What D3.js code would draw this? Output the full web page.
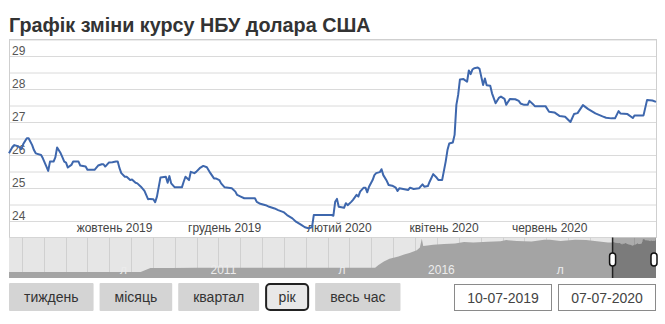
<!DOCTYPE html>
<html>
<head>
<meta charset="utf-8">
<script src="https://cdn.jsdelivr.net/npm/d3@7"></script>
<style>
  body { margin: 0; background: #fff; font-family: Arial, "Liberation Sans", sans-serif; }
  svg { display: block; }
</style>
</head>
<body>
<div id="chart"></div>
<script>
const title = "Графік зміни курсу НБУ долара США";

// daily NBU USD rate (DD-MM-YYYY)
const dates = [
  "10-07-2019","12-07-2019","13-07-2019","15-07-2019","17-07-2019","18-07-2019","20-07-2019","21-07-2019",
  "23-07-2019","24-07-2019","25-07-2019","28-07-2019","29-07-2019","31-07-2019","01-08-2019","02-08-2019",
  "04-08-2019","05-08-2019","06-08-2019","08-08-2019","09-08-2019","10-08-2019","11-08-2019","12-08-2019",
  "14-08-2019","15-08-2019","18-08-2019","19-08-2019","22-08-2019","23-08-2019","27-08-2019","29-08-2019",
  "31-08-2019","01-09-2019","02-09-2019","04-09-2019","06-09-2019","08-09-2019","09-09-2019","10-09-2019",
  "11-09-2019","13-09-2019","14-09-2019","16-09-2019","17-09-2019","19-09-2019","20-09-2019","22-09-2019",
  "24-09-2019","26-09-2019","27-09-2019","29-09-2019","30-09-2019","01-10-2019","03-10-2019","06-10-2019",
  "07-10-2019","08-10-2019","09-10-2019","11-10-2019","15-10-2019","16-10-2019","17-10-2019","19-10-2019",
  "20-10-2019","22-10-2019","23-10-2019","25-10-2019","27-10-2019","29-10-2019","31-10-2019","02-11-2019",
  "03-11-2019","05-11-2019","06-11-2019","08-11-2019","12-11-2019","14-11-2019","15-11-2019","17-11-2019",
  "19-11-2019","25-11-2019","26-11-2019","28-11-2019","01-12-2019","03-12-2019","06-12-2019","08-12-2019",
  "11-12-2019","13-12-2019","16-12-2019","18-12-2019","21-12-2019","23-12-2019","25-12-2019","27-12-2019",
  "28-12-2019","07-01-2020","08-01-2020","09-01-2020","10-01-2020","11-01-2020","14-01-2020","15-01-2020",
  "16-01-2020","18-01-2020","19-01-2020","21-01-2020","22-01-2020","23-01-2020","25-01-2020","26-01-2020",
  "27-01-2020","28-01-2020","30-01-2020","31-01-2020","01-02-2020","03-02-2020","04-02-2020","05-02-2020",
  "07-02-2020","08-02-2020","10-02-2020","12-02-2020","13-02-2020","14-02-2020","19-02-2020","20-02-2020",
  "22-02-2020","25-02-2020","27-02-2020","28-02-2020","01-03-2020","02-03-2020","04-03-2020","06-03-2020",
  "07-03-2020","09-03-2020","11-03-2020","12-03-2020","13-03-2020","15-03-2020","16-03-2020","17-03-2020",
  "18-03-2020","19-03-2020","21-03-2020","23-03-2020","24-03-2020","25-03-2020","26-03-2020","27-03-2020",
  "29-03-2020","30-03-2020","01-04-2020","02-04-2020","03-04-2020","05-04-2020","06-04-2020","08-04-2020",
  "10-04-2020","11-04-2020","13-04-2020","14-04-2020","16-04-2020","19-04-2020","21-04-2020","22-04-2020",
  "24-04-2020","26-04-2020","27-04-2020","29-04-2020","30-04-2020","06-05-2020","08-05-2020","11-05-2020",
  "14-05-2020","17-05-2020","20-05-2020","22-05-2020","24-05-2020","27-05-2020","30-05-2020","03-06-2020",
  "07-06-2020","09-06-2020","12-06-2020","14-06-2020","16-06-2020","17-06-2020","21-06-2020","24-06-2020",
  "25-06-2020","30-06-2020","02-07-2020","05-07-2020","07-07-2020"
];
const rates = [
  26.05,26.25,26.30,26.27,26.18,26.33,26.51,26.51,
  26.30,26.15,26.05,26.00,25.90,25.65,25.52,25.80,
  25.80,25.93,26.23,26.05,25.93,25.80,25.77,25.62,
  25.70,25.80,25.80,25.68,25.65,25.55,25.55,25.68,
  25.72,25.72,25.65,25.77,25.78,25.80,25.80,25.60,
  25.45,25.34,25.34,25.24,25.26,25.16,25.14,25.04,
  24.91,24.66,24.67,24.66,24.57,24.74,25.32,25.34,
  25.16,25.36,25.14,25.02,25.02,25.19,25.34,25.24,
  25.49,25.45,25.49,25.60,25.67,25.63,25.45,25.29,
  25.29,25.24,25.14,25.02,24.99,24.89,24.79,24.74,
  24.69,24.69,24.58,24.52,24.48,24.43,24.38,24.33,
  24.27,24.18,24.08,23.98,23.88,23.81,23.78,23.81,
  24.18,24.18,24.16,24.58,24.67,24.43,24.40,24.54,
  24.48,24.58,24.64,24.79,24.74,24.89,25.01,25.01,
  24.87,25.04,25.24,25.39,25.45,25.48,25.57,25.39,
  25.21,25.09,25.07,25.01,24.91,24.99,24.94,25.01,
  24.97,24.99,25.11,25.04,25.06,25.19,25.42,25.31,
  25.24,25.24,25.80,26.15,26.35,26.38,26.61,27.52,
  27.82,28.29,28.30,28.22,28.56,28.45,28.59,28.63,
  28.65,28.61,28.12,28.32,28.11,28.10,27.87,27.57,
  27.74,27.77,27.70,27.52,27.70,27.69,27.64,27.56,
  27.52,27.52,27.64,27.54,27.48,27.48,27.31,27.29,
  27.18,27.16,27.00,27.24,27.27,27.51,27.39,27.26,
  27.17,27.13,27.11,27.11,27.33,27.26,27.24,27.12,
  27.20,27.20,27.67,27.65,27.61
];

// navigator history before the selected year
const navDates = [
  "15-09-2005","20-09-2008","20-10-2008","20-11-2008","10-12-2008","01-06-2009","01-01-2010","01-01-2011",
  "01-01-2012","01-01-2013","01-02-2014","01-03-2014","15-04-2014","01-06-2014","15-08-2014","01-10-2014",
  "15-11-2014","15-01-2015","10-02-2015","26-02-2015","10-03-2015","15-04-2015","01-06-2015","01-09-2015",
  "01-12-2015","15-02-2016","01-05-2016","01-09-2016","15-12-2016","01-02-2017","01-05-2017","01-09-2017",
  "15-12-2017","01-02-2018","01-05-2018","01-09-2018","01-12-2018","01-03-2019","01-06-2019"
];
const navRates = [
  5.05,5.05,6.0,7.2,7.9,7.8,8.1,8.0,
  8.0,8.1,8.1,10.0,12.5,14.5,16.0,17.5,
  18.5,20.5,22.5,28.8,23.5,24.0,24.5,25.0,
  25.3,26.5,26.0,26.6,27.0,27.8,27.2,26.8,
  28.0,28.0,27.2,28.0,27.8,27.0,26.0
];

const yTicks = [24, 25, 26, 27, 28, 29];
const monthTicks = ["01-10-2019","01-12-2019","01-02-2020","01-04-2020","01-06-2020"];
const monthNames = ["січень","лютий","березень","квітень","травень","червень",
                    "липень","серпень","вересень","жовтень","листопад","грудень"];
const navLabelDates = ["01-07-2008","01-01-2011","01-07-2013","01-01-2016","01-07-2018"];
const navLabelText = ["л","2011","л","2016","л"];
const buttons = ["тиждень","місяць","квартал","рік","весь час"];
const activeButton = "рік";
const rangeFrom = "10-07-2019";
const rangeTo = "07-07-2020";
const navStart = "15-09-2005";

const parse = d3.timeParse("%d-%m-%Y");
const W = 665, H = 324;
const plot = { left: 9, right: 656, top: 39.5, bottom: 237.5 };
const nav = { top: 237.5, bottom: 278 };

const svg = d3.select("#chart").append("svg")
  .attr("width", W)
  .attr("height", H)
  .style("font-family", "Arial, 'Liberation Sans', sans-serif");

svg.append("text")
  .attr("x", 9)
  .attr("y", 32)
  .attr("font-size", 19.8)
  .attr("font-weight", "bold")
  .attr("fill", "#333")
  .text(title);

const series = dates.map((d, i) => ({ date: parse(d), v: rates[i] }));

const x = d3.scaleTime()
  .domain([parse(rangeFrom), parse(rangeTo)])
  .range([plot.left, plot.right]);
const y = d3.scaleLinear()
  .domain([23.5, 29.5])
  .range([plot.bottom, plot.top]);

// horizontal grid every half unit
svg.append("g")
  .attr("transform", `translate(${plot.left},0)`)
  .call(d3.axisRight(y).tickValues(d3.range(24, 29.51, 0.5)).tickSize(plot.right - plot.left).tickFormat(""))
  .call(g => g.select(".domain").remove())
  .call(g => g.selectAll("line").attr("stroke", "#dadada"));

svg.append("rect")
  .attr("x", plot.left + 0.5)
  .attr("y", plot.top)
  .attr("width", plot.right - plot.left)
  .attr("height", plot.bottom - plot.top)
  .attr("fill", "none")
  .attr("stroke", "#cfcfcf");

// y labels inside the plot
svg.append("g")
  .attr("transform", `translate(${plot.left},0)`)
  .call(d3.axisRight(y).tickValues(yTicks).tickSize(0).tickPadding(3).tickFormat(d3.format("d")))
  .call(g => g.select(".domain").remove())
  .call(g => g.selectAll("text")
    .attr("dy", "-0.15em")
    .attr("font-size", 12)
    .attr("font-family", "Arial, 'Liberation Sans', sans-serif")
    .attr("fill", "#555"));

// month labels, right aligned before the month start
svg.append("g")
  .attr("transform", "translate(0,232)")
  .call(d3.axisBottom(x).tickValues(monthTicks.map(parse)).tickSize(0)
    .tickFormat(d => monthNames[d.getMonth()] + " " + d.getFullYear()))
  .call(g => g.select(".domain").remove())
  .call(g => g.selectAll("text")
    .attr("y", 0)
    .attr("dy", 0)
    .attr("dx", -5)
    .attr("text-anchor", "end")
    .attr("font-size", 12)
    .attr("font-family", "Arial, 'Liberation Sans', sans-serif")
    .attr("fill", "#444"));

const line = d3.line()
  .x(d => x(d.date))
  .y(d => y(d.v));

svg.append("path")
  .datum(series)
  .attr("d", line)
  .attr("fill", "none")
  .attr("stroke", "#3e67ad")
  .attr("stroke-width", 2)
  .attr("stroke-linejoin", "round");

// navigator
const navSeries = navDates.map((d, i) => ({ date: parse(d), v: navRates[i] })).concat(series);
const nx = d3.scaleTime()
  .domain([parse(navStart), parse(rangeTo)])
  .range([plot.left, plot.right]);
const ny = d3.scaleLinear().domain([0, 30]).range([279, 237]);

svg.append("clipPath").attr("id", "navclip")
  .append("rect")
  .attr("x", plot.left).attr("y", nav.top)
  .attr("width", plot.right - plot.left).attr("height", nav.bottom - nav.top);

const navG = svg.append("g").attr("clip-path", "url(#navclip)");

navG.append("rect")
  .attr("x", plot.left).attr("y", nav.top)
  .attr("width", plot.right - plot.left).attr("height", nav.bottom - nav.top)
  .attr("fill", "#e6e6e6");

navG.selectAll("line.vgrid")
  .data(d3.timeMonth.every(6).range(parse(navStart), parse(rangeTo)))
  .join("line")
  .attr("class", "vgrid")
  .attr("x1", d => Math.round(nx(d)) + 0.5)
  .attr("x2", d => Math.round(nx(d)) + 0.5)
  .attr("y1", nav.top)
  .attr("y2", nav.bottom)
  .attr("stroke", "#d0d0d0");

navG.append("path")
  .datum(navSeries)
  .attr("d", d3.area().x(d => nx(d.date)).y0(nav.bottom).y1(d => ny(d.v)))
  .attr("fill", "#a4a4a4");

navG.selectAll("text.navlab")
  .data(navLabelDates.map((d, i) => ({ date: parse(d), t: navLabelText[i] })))
  .join("text")
  .attr("class", "navlab")
  .attr("x", d => nx(d.date) - 4)
  .attr("y", 274)
  .attr("text-anchor", "end")
  .attr("font-size", 12)
  .attr("fill", "#ececec")
  .text(d => d.t);

const selX0 = nx(parse(rangeFrom));
const selX1 = nx(parse(rangeTo));
navG.append("rect")
  .attr("x", selX0).attr("y", nav.top)
  .attr("width", selX1 - selX0).attr("height", nav.bottom - nav.top)
  .attr("fill", "rgba(0,0,0,0.25)");

svg.append("line")
  .attr("x1", selX0).attr("x2", selX0)
  .attr("y1", nav.top).attr("y2", nav.bottom)
  .attr("stroke", "#222").attr("stroke-width", 1.5);

svg.selectAll("rect.handle")
  .data([selX0, selX1 - 2])
  .join("rect")
  .attr("class", "handle")
  .attr("x", d => d - 3)
  .attr("y", 253)
  .attr("width", 6)
  .attr("height", 13)
  .attr("rx", 3)
  .attr("fill", "#fff")
  .attr("stroke", "#111")
  .attr("stroke-width", 1.5);

// range buttons
let bx = 9;
buttons.forEach(label => {
  const g = svg.append("g");
  const active = label === activeButton;
  const r = g.append("rect");
  const t = g.append("text")
    .attr("y", 302)
    .attr("font-size", 14)
    .attr("fill", "#333")
    .attr("text-anchor", "middle")
    .text(label);
  const w = t.node().getComputedTextLength() + (active ? 27 : 30);
  r.attr("x", bx + (active ? 1 : 0))
    .attr("y", active ? 284 : 283)
    .attr("width", w - (active ? 2 : 0))
    .attr("height", active ? 26 : 28)
    .attr("rx", active ? 4 : 1)
    .attr("fill", active ? "#e8e8e8" : "#d4d4d4")
    .attr("stroke", active ? "#222" : "none")
    .attr("stroke-width", 2);
  t.attr("x", bx + w / 2);
  bx += w + 6;
});

// date range boxes
const boxW = 98;
[rangeFrom, rangeTo].forEach((label, i) => {
  const bx0 = plot.right - boxW * (2 - i) - 6 * (1 - i);
  svg.append("rect")
    .attr("x", bx0 + 0.5).attr("y", 284.5)
    .attr("width", boxW - 1).attr("height", 26)
    .attr("fill", "#fff")
    .attr("stroke", "#8a8a8a");
  svg.append("text")
    .attr("x", bx0 + boxW / 2)
    .attr("y", 302.5)
    .attr("text-anchor", "middle")
    .attr("font-size", 14)
    .attr("fill", "#444")
    .text(label);
});
</script>
</body>
</html>
